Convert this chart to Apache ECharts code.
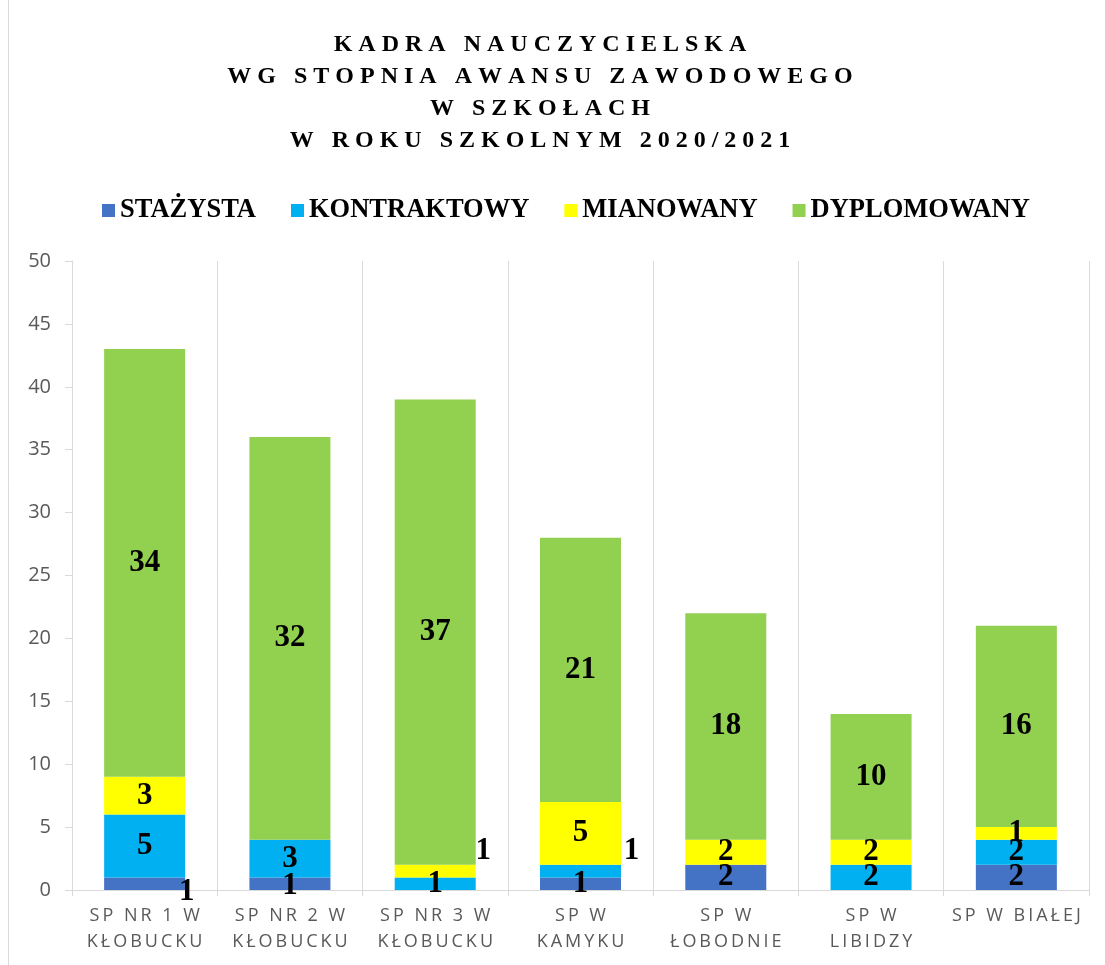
<!DOCTYPE html>
<html>
<head>
<meta charset="utf-8">
<script src="https://cdn.jsdelivr.net/npm/echarts@6/dist/echarts.min.js"></script>
<style>html,body{margin:0;padding:0;background:#fff}#c{width:1105px;height:965px}</style>
</head>
<body>
<div id="c"></div>
<script>
const titleLines = ['KADRA NAUCZYCIELSKA', 'WG STOPNIA AWANSU ZAWODOWEGO', 'W SZKOŁACH', 'W ROKU SZKOLNYM 2020/2021'];
const categories = ['SP NR 1 W\nKŁOBUCKU', 'SP NR 2 W\nKŁOBUCKU', 'SP NR 3 W\nKŁOBUCKU', 'SP W\nKAMYKU', 'SP W\nŁOBODNIE', 'SP W\nLIBIDZY', 'SP W BIAŁEJ'];
const seriesNames = ['STAŻYSTA', 'KONTRAKTOWY', 'MIANOWANY', 'DYPLOMOWANY'];
const stazysta    = [1, 1, 0, 1, 2, 0, 2];
const kontraktowy = [5, 3, 1, 1, 0, 2, 2];
const mianowany   = [3, 0, 1, 5, 2, 2, 1];
const dyplomowany = [34, 32, 37, 21, 18, 10, 16];
const yTicks = [0, 5, 10, 15, 20, 25, 30, 35, 40, 45, 50];

const seriesValues = [stazysta, kontraktowy, mianowany, dyplomowany];
const colors = ['#4472C4', '#00B0F0', '#FFFF00', '#92D050'];
// manual label nudges (series index -> {category index: [dx, dy]})
const labelNudge = {
  0: {0: [42, 8], 1: [0, 2]},
  1: {3: [51, -20]},
  2: {2: [48, -20]}
};

function spaced(s, ch) {
  return s.split('\n').map(l => Array.from(l).join(ch)).join('\n');
}

const chart = echarts.init(document.getElementById('c'), null, {renderer: 'canvas'});

const series = seriesNames.map((name, si) => ({
  name: name,
  type: 'bar',
  stack: 'total',
  barWidth: 81,
  itemStyle: {color: colors[si]},
  label: {
    show: true,
    position: 'inside',
    color: '#000',
    fontFamily: 'Liberation Serif',
    fontWeight: 'bold',
    fontSize: 31,
    formatter: p => (p.value ? String(p.value) : '')
  },
  data: seriesValues[si].map((v, ci) => {
    const n = labelNudge[si] && labelNudge[si][ci];
    return n ? {value: v, label: {offset: n}} : {value: v};
  })
}));

chart.setOption({
  animation: false,
  backgroundColor: '#fff',
  title: {
    text: titleLines.map(l => spaced(l, '\u2005')).join('\n'),
    left: 540,
    textAlign: 'center',
    top: 29,
    padding: 0,
    textStyle: {
      fontFamily: 'Liberation Serif',
      fontWeight: 'bold',
      fontSize: 24,
      lineHeight: 32,
      color: '#000'
    }
  },
  legend: {
    top: 192,
    left: 97,
    itemWidth: 13,
    itemHeight: 13,
    itemGap: 35,
    icon: 'rect',
    textStyle: {
      fontFamily: 'Liberation Serif',
      fontWeight: 'bold',
      fontSize: 26.5,
      color: '#000'
    },
    data: seriesNames
  },
  grid: {left: 72, right: 16, top: 261, bottom: 75, containLabel: false},
  xAxis: {
    type: 'category',
    data: categories,
    axisLine: {show: true, lineStyle: {color: '#d9d9d9', width: 1}},
    axisTick: {show: true, length: 6, lineStyle: {color: '#d9d9d9'}},
    splitLine: {show: true, lineStyle: {color: '#d9d9d9', width: 1}},
    axisLabel: {
      color: '#595959',
      fontFamily: 'Open Sans',
      fontSize: 18,
      lineHeight: 26,
      margin: 13,
      interval: 0,
      formatter: v => spaced(v, '\u2009')
    }
  },
  yAxis: {
    type: 'value',
    min: yTicks[0],
    max: yTicks[yTicks.length - 1],
    interval: 5,
    axisLine: {show: true, lineStyle: {color: '#d9d9d9', width: 1}},
    axisTick: {show: true, length: 7, lineStyle: {color: '#d9d9d9'}},
    splitLine: {show: false},
    axisLabel: {
      color: '#595959',
      fontFamily: 'Open Sans',
      fontSize: 20,
      margin: 21
    }
  },
  graphic: [{
    type: 'line',
    shape: {x1: 8.5, y1: 0, x2: 8.5, y2: 965},
    style: {stroke: '#d9d9d9', lineWidth: 1}
  }],
  series: series
});
</script>
</body>
</html>
